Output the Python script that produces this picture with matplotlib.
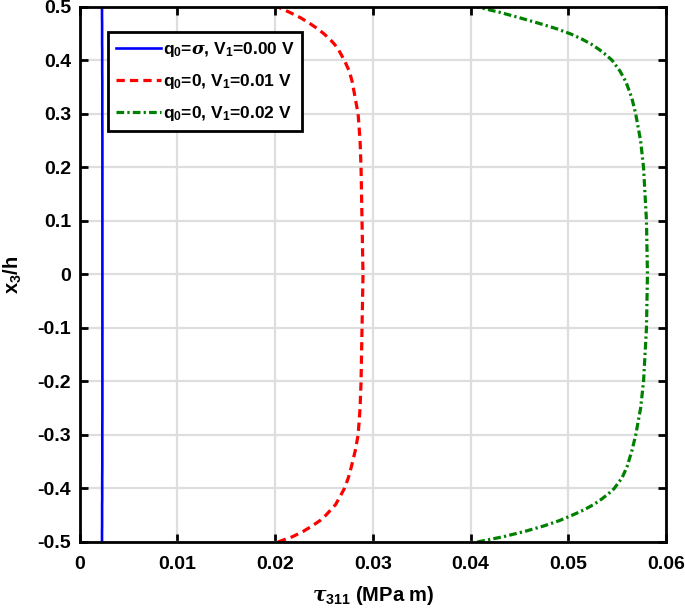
import numpy as np
import matplotlib.pyplot as plt

# values
x3 = [-0.5, -0.49, -0.48, -0.47, -0.46, -0.45, -0.44, -0.43, -0.42, -0.41, -0.40, -0.38,
      -0.36, -0.33, -0.30, -0.25, -0.20, -0.10, 0.0, 0.10, 0.20, 0.25, 0.30, 0.33, 0.36,
      0.38, 0.40, 0.41, 0.42, 0.43, 0.44, 0.45, 0.46, 0.47, 0.48, 0.49, 0.5]

tau_v000 = [0.00230, 0.00230, 0.00230, 0.00231, 0.00231, 0.00231, 0.00231, 0.00231, 0.00232,
            0.00232, 0.00232, 0.00232, 0.00233, 0.00233, 0.00233, 0.00234, 0.00234, 0.00234,
            0.00234, 0.00234, 0.00234, 0.00234, 0.00233, 0.00233, 0.00233, 0.00232, 0.00232,
            0.00232, 0.00232, 0.00231, 0.00231, 0.00231, 0.00231, 0.00231, 0.00230, 0.00230,
            0.00230]

tau_v001 = [0.0203, 0.0218, 0.0229, 0.0238, 0.0246, 0.0252, 0.0257, 0.0262, 0.0265, 0.0268,
            0.0271, 0.0275, 0.0278, 0.0282, 0.0285, 0.0287, 0.0288, 0.0289, 0.0290, 0.0289,
            0.0288, 0.0287, 0.0285, 0.0282, 0.0279, 0.0276, 0.0271, 0.0268, 0.0265, 0.0261,
            0.0256, 0.0250, 0.0243, 0.0235, 0.0226, 0.0215, 0.0203]

tau_v002 = [0.0407, 0.0434, 0.0456, 0.0475, 0.0491, 0.0504, 0.0516, 0.0526, 0.0534, 0.0541,
            0.0547, 0.0555, 0.0560, 0.0565, 0.0569, 0.0574, 0.0577, 0.0580, 0.0581, 0.0580,
            0.0577, 0.0574, 0.0569, 0.0565, 0.0559, 0.0553, 0.0545, 0.0539, 0.0532, 0.0524,
            0.0514, 0.0502, 0.0487, 0.0469, 0.0450, 0.0430, 0.0407]

labels = [r'q$_\mathbf{0}$=$\sigma$, V$_\mathbf{1}$=0.00 V',
          r'q$_\mathbf{0}$=0, V$_\mathbf{1}$=0.01 V',
          r'q$_\mathbf{0}$=0, V$_\mathbf{1}$=0.02 V']

xticks = [0, 0.01, 0.02, 0.03, 0.04, 0.05, 0.06]
xticklabels = ['0', '0.01', '0.02', '0.03', '0.04', '0.05', '0.06']
yticks = [-0.5, -0.4, -0.3, -0.2, -0.1, 0, 0.1, 0.2, 0.3, 0.4, 0.5]
yticklabels = ['-0.5', '-0.4', '-0.3', '-0.2', '-0.1', '0', '0.1', '0.2', '0.3', '0.4', '0.5']

plt.rcParams['font.family'] = ['Liberation Sans', 'DejaVu Sans']
plt.rcParams['font.weight'] = 'bold'
plt.rcParams['mathtext.fontset'] = 'custom'
plt.rcParams['mathtext.rm'] = 'Liberation Sans:bold'
plt.rcParams['mathtext.bf'] = 'Liberation Sans:bold'
plt.rcParams['mathtext.it'] = 'DejaVu Serif:italic'

fig = plt.figure(figsize=(6.85, 6.14), dpi=100)
ax = fig.add_axes([0.1161, 0.1173, 0.8562, 0.8713])

ax.plot(tau_v000, x3, color='#0000ff', lw=1.9, ls='-', label=labels[0])
ax.plot(tau_v001, x3, color='#ff0000', lw=2.3, ls=(0, (2.6, 1.6)), label=labels[1])
ax.plot(tau_v002, x3, color='#008000', lw=2.3, ls=(0, (2.4, 1.0, 0.7, 1.0)), label=labels[2])

ax.set_xlim(0, 0.06)
ax.set_ylim(-0.5, 0.5)
ax.set_xticks(xticks)
ax.set_xticklabels(xticklabels)
ax.set_yticks(yticks)
ax.set_yticklabels(yticklabels)

ax.grid(True, color='#dedede', lw=1.6)
ax.set_axisbelow(True)
for s in ax.spines.values():
    s.set_linewidth(2)
ax.tick_params(direction='in', length=6, width=2, top=True, right=True, labelsize=14)
ax.tick_params(axis='x', pad=10)
ax.tick_params(axis='y', pad=6)
for t in ax.get_xticklabels() + ax.get_yticklabels():
    t.set_fontweight('bold')

ax.set_xlabel(r'$\tau_{\mathbf{311}}$ (MPa m)', fontsize=14.5, fontweight='bold', labelpad=8)
ax.set_ylabel(r'x$_\mathbf{3}$/h', fontsize=14.5, fontweight='bold', labelpad=10)

leg = ax.legend(loc='upper left', bbox_to_anchor=(0.0486, 0.9533), borderaxespad=0,
                fontsize=12.5, handlelength=2.6, handletextpad=0.1, borderpad=0.45,
                labelspacing=0.75, fancybox=False, framealpha=1, edgecolor='black')
leg.get_frame().set_linewidth(2)
for t in leg.get_texts():
    t.set_fontweight('bold')

fig.savefig('out.png', dpi=100)
